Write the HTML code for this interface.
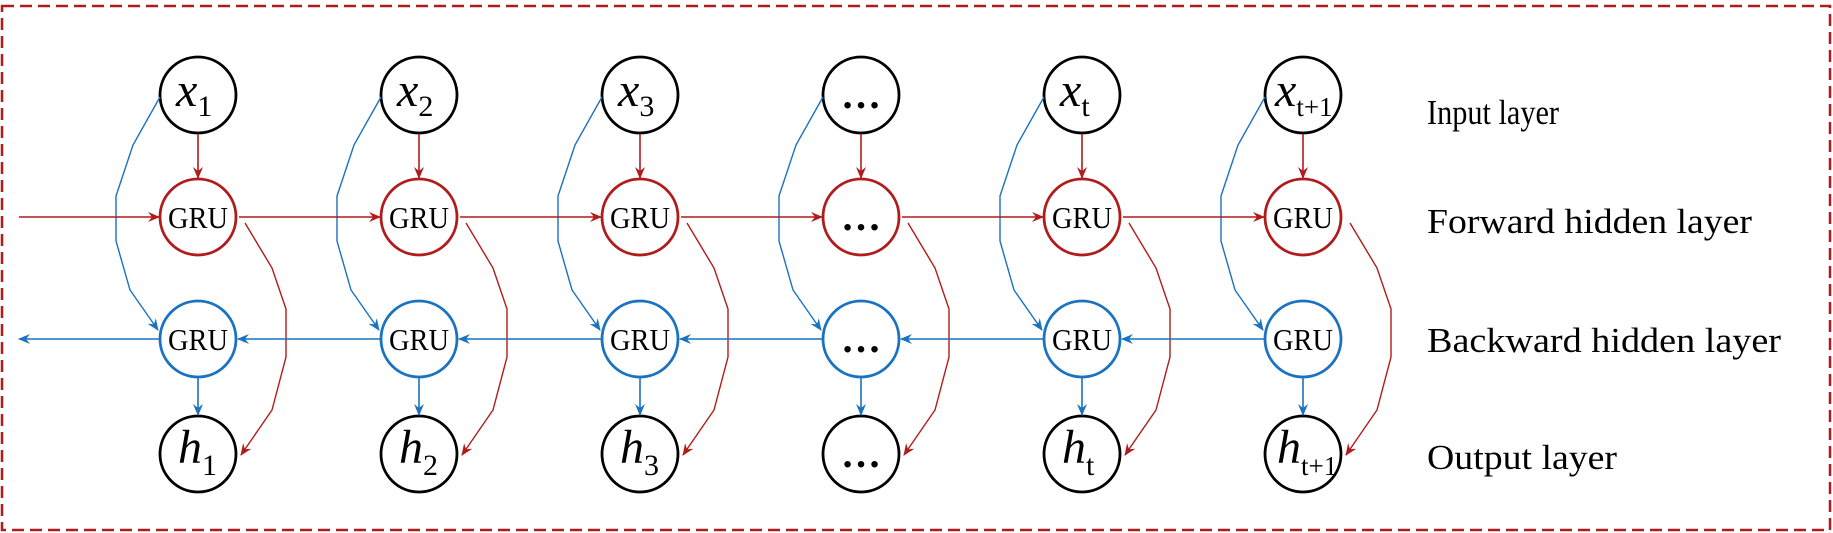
<!DOCTYPE html>
<html><head><meta charset="utf-8"><style>
html,body{margin:0;padding:0;background:#fff}
svg{display:block}
text{font-family:"Liberation Serif",serif;fill:#000}
</style></head><body>
<svg width="1833" height="533" viewBox="0 0 1833 533" xmlns="http://www.w3.org/2000/svg">
<defs>
<marker id="ar" viewBox="0 0 12 10" refX="11" refY="5" markerWidth="12" markerHeight="10" markerUnits="userSpaceOnUse" orient="auto"><path d="M0,0 L12,5 L0,10 L4,5 Z" fill="#b01c1c"/></marker>
<marker id="ab" viewBox="0 0 12 10" refX="11" refY="5" markerWidth="12" markerHeight="10" markerUnits="userSpaceOnUse" orient="auto"><path d="M0,0 L12,5 L0,10 L4,5 Z" fill="#1a72c0"/></marker>
<g id="col">
<circle cx="198" cy="95" r="38" fill="none" stroke="#000" stroke-width="2.8"/>
<circle cx="198" cy="217" r="38" fill="none" stroke="#b01c1c" stroke-width="2.8"/>
<circle cx="198" cy="339" r="38" fill="none" stroke="#1a72c0" stroke-width="2.8"/>
<circle cx="198" cy="454" r="38" fill="none" stroke="#000" stroke-width="2.8"/>
<line x1="198" y1="134" x2="198" y2="178" stroke="#b01c1c" stroke-width="1.6" marker-end="url(#ar)"/>
<line x1="198" y1="378" x2="198" y2="415" stroke="#1a72c0" stroke-width="1.6" marker-end="url(#ab)"/>
<polyline points="160,97 133,145 116,196 116,241 130,290 158,330" fill="none" stroke="#1a72c0" stroke-width="1.4" marker-end="url(#ab)"/>
<polyline points="245,223 272,268 286,309 286,357 272,410 241,455" fill="none" stroke="#b01c1c" stroke-width="1.4" marker-end="url(#ar)"/>
</g>
</defs>
<rect x="2" y="6" width="1828" height="524" fill="none" stroke="#b01c1c" stroke-width="2.5" stroke-dasharray="12,6"/>
<use href="#col"/>
<use href="#col" transform="translate(221,0)"/>
<use href="#col" transform="translate(442,0)"/>
<use href="#col" transform="translate(663,0)"/>
<use href="#col" transform="translate(884,0)"/>
<use href="#col" transform="translate(1105,0)"/>
<g stroke="#b01c1c" stroke-width="1.6" marker-end="url(#ar)">
<line x1="19" y1="217" x2="159" y2="217"/>
<line x1="239" y1="217" x2="380" y2="217"/>
<line x1="460" y1="217" x2="601" y2="217"/>
<line x1="681" y1="217" x2="822" y2="217"/>
<line x1="902" y1="217" x2="1043" y2="217"/>
<line x1="1123" y1="217" x2="1264" y2="217"/>
</g>
<g stroke="#1a72c0" stroke-width="1.6" marker-end="url(#ab)">
<line x1="159" y1="339" x2="19" y2="339"/>
<line x1="380" y1="339" x2="238" y2="339"/>
<line x1="601" y1="339" x2="459" y2="339"/>
<line x1="822" y1="339" x2="680" y2="339"/>
<line x1="1043" y1="339" x2="901" y2="339"/>
<line x1="1264" y1="339" x2="1122" y2="339"/>
</g>
<g font-size="31" text-anchor="middle">
<text x="198" y="228" textLength="60" lengthAdjust="spacingAndGlyphs">GRU</text>
<text x="419" y="228" textLength="60" lengthAdjust="spacingAndGlyphs">GRU</text>
<text x="640" y="228" textLength="60" lengthAdjust="spacingAndGlyphs">GRU</text>
<text x="1082" y="228" textLength="60" lengthAdjust="spacingAndGlyphs">GRU</text>
<text x="1303" y="228" textLength="60" lengthAdjust="spacingAndGlyphs">GRU</text>
<text x="198" y="350" textLength="60" lengthAdjust="spacingAndGlyphs">GRU</text>
<text x="419" y="350" textLength="60" lengthAdjust="spacingAndGlyphs">GRU</text>
<text x="640" y="350" textLength="60" lengthAdjust="spacingAndGlyphs">GRU</text>
<text x="1082" y="350" textLength="60" lengthAdjust="spacingAndGlyphs">GRU</text>
<text x="1303" y="350" textLength="60" lengthAdjust="spacingAndGlyphs">GRU</text>
<text x="861" y="108" font-size="40" font-weight="bold">…</text>
<text x="861" y="230" font-size="40" font-weight="bold">…</text>
<text x="861" y="352" font-size="40" font-weight="bold">…</text>
<text x="861" y="467" font-size="40" font-weight="bold">…</text>
</g>
<g font-size="48">
<text x="176" y="106"><tspan font-style="italic">x</tspan><tspan font-size="30" dy="10">1</tspan></text>
<text x="397" y="106"><tspan font-style="italic">x</tspan><tspan font-size="30" dy="10">2</tspan></text>
<text x="618" y="106"><tspan font-style="italic">x</tspan><tspan font-size="30" dy="10">3</tspan></text>
<text x="1060" y="106"><tspan font-style="italic">x</tspan><tspan font-size="30" dy="10">t</tspan></text>
<text x="1275" y="106"><tspan font-style="italic">x</tspan><tspan font-size="27" dy="10">t+1</tspan></text>
<text x="178" y="463"><tspan font-style="italic">h</tspan><tspan font-size="30" dy="12">1</tspan></text>
<text x="399" y="463"><tspan font-style="italic">h</tspan><tspan font-size="30" dy="12">2</tspan></text>
<text x="620" y="463"><tspan font-style="italic">h</tspan><tspan font-size="30" dy="12">3</tspan></text>
<text x="1062" y="463"><tspan font-style="italic">h</tspan><tspan font-size="30" dy="12">t</tspan></text>
<text x="1277" y="463"><tspan font-style="italic">h</tspan><tspan font-size="27" dy="12">t+1</tspan></text>
</g>
<g font-size="35">
<text x="1427" y="124" textLength="132" lengthAdjust="spacingAndGlyphs">Input layer</text>
<text x="1427" y="233" textLength="325" lengthAdjust="spacingAndGlyphs">Forward hidden layer</text>
<text x="1427" y="352" textLength="354" lengthAdjust="spacingAndGlyphs">Backward hidden layer</text>
<text x="1427" y="469" textLength="190" lengthAdjust="spacingAndGlyphs">Output layer</text>
</g>
</svg>
</body></html>
